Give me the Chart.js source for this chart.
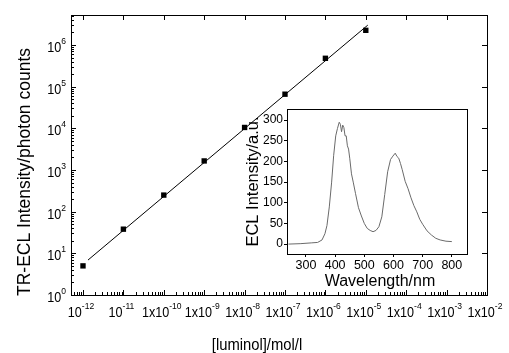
<!DOCTYPE html>
<html>
<head>
<meta charset="utf-8">
<script src="https://cdn.jsdelivr.net/npm/chart.js@4"></script>
<style>
  html, body { margin: 0; padding: 0; background: #fff; }
  #wrap { position: relative; width: 509px; height: 353px; }
  #main { position: absolute; left: 0; top: 0; }
  #inset { position: absolute; left: 240px; top: 100px; }
</style>
</head>
<body>
<div id="wrap">
  <canvas id="main" width="509" height="353"></canvas>
  <canvas id="inset" width="245" height="195"></canvas>
</div>
<script>
// main plot: TR-ECL intensity vs luminol concentration
const concentrations = [1e-12, 1e-11, 1e-10, 1e-9, 1e-8, 1e-7, 1e-6, 1e-5];
const photonCounts = [5, 38, 250, 1650, 10500, 66000, 480000, 2250000];
// fitted straight line (log-log) at its two ends
const fitConc = [1.33e-12, 1.12e-5];
const fitCounts = [6.9, 3.0e6];

const xTickValues = [1e-12, 1e-11, 1e-10, 1e-9, 1e-8, 1e-7, 1e-6, 1e-5, 1e-4, 1e-3, 1e-2];
const xTickLabels = ["10^-12", "10^-11", "1x10^-10", "1x10^-9", "1x10^-8", "1x10^-7",
                     "1x10^-6", "1x10^-5", "1x10^-4", "1x10^-3", "1x10^-2"];
const yTickValues = [1, 10, 100, 1e3, 1e4, 1e5, 1e6];
const yTickLabels = ["10^0", "10^1", "10^2", "10^3", "10^4", "10^5", "10^6"];

// inset: ECL spectrum
const wavelengths = [240, 280, 320, 340, 355, 365, 372, 380, 388, 395, 402, 408, 414, 418, 422,
  426, 430, 434, 438, 442, 446, 450, 456, 462, 470, 480, 490, 500, 510, 520, 530, 540, 550,
  560, 570, 580, 590, 598, 606, 612, 618, 624, 630, 640, 650, 660, 670, 680, 690, 700, 715,
  730, 745, 760, 780, 800];
const eclIntensity = [0, 1, 3, 4, 10, 25, 45, 90, 150, 215, 262, 280, 295, 290, 272,
  288, 282, 262, 262, 238, 230, 208, 170, 150, 122, 88, 68, 50, 38, 33, 30, 33, 42,
  66, 120, 175, 205, 213, 220, 212, 208, 195, 180, 152, 134, 112, 93, 78, 60, 48, 32,
  22, 14, 10, 7, 6];
const insetXTicks = [300, 400, 500, 600, 700, 800];
const insetYTicks = [0, 50, 100, 150, 200, 250, 300];

const FONT = '"Liberation Sans", Arial, Helvetica, sans-serif';
Chart.defaults.font.family = FONT;
Chart.defaults.color = '#000';
Chart.defaults.animation = false;

// text with a superscript part, squeezed a bit horizontally like the original
function supText(ctx, label, cx, baseY, align, sx) {
  const parts = label.split('^');
  ctx.font = '14px ' + FONT;
  const wb = ctx.measureText(parts[0]).width;
  ctx.font = '9.5px ' + FONT;
  const ws = ctx.measureText(parts[1]).width;
  const w = (wb + ws) * sx;
  const left = align === 'center' ? cx - w / 2 : cx - w;
  ctx.save();
  ctx.translate(left, baseY);
  ctx.scale(sx, 1);
  ctx.textAlign = 'left';
  ctx.textBaseline = 'alphabetic';
  ctx.font = '14px ' + FONT;
  ctx.fillText(parts[0], 0, 0);
  ctx.font = '9.5px ' + FONT;
  ctx.fillText(parts[1], wb, -8);
  ctx.restore();
}

const mainFrame = {
  id: 'mainFrame',
  afterDraw(chart) {
    const { ctx, chartArea: a } = chart;
    const x = chart.scales.x, y = chart.scales.y;
    ctx.save();
    ctx.strokeStyle = '#000';
    ctx.lineWidth = 1;
    ctx.strokeRect(a.left + 0.5, a.top + 0.5, a.right - a.left, a.bottom - a.top);
    ctx.beginPath();
    // x ticks (inward), minors only on bottom
    xTickValues.forEach(v => {
      const px = Math.round(x.getPixelForValue(v)) + 0.5;
      ctx.moveTo(px, a.bottom); ctx.lineTo(px, a.bottom - 5);
      ctx.moveTo(px, a.top); ctx.lineTo(px, a.top + 5);
    });
    [1e-13].concat(xTickValues).forEach(v => {
      for (let m = 2; m <= 9; m++) {
        const val = m * v;
        if (val < x.min || val > x.max) continue;
        const px = Math.round(x.getPixelForValue(val)) + 0.5;
        ctx.moveTo(px, a.bottom); ctx.lineTo(px, a.bottom - 3);
      }
    });
    // y ticks (inward), minors only on left
    yTickValues.forEach(v => {
      const py = Math.round(y.getPixelForValue(v)) + 0.5;
      ctx.moveTo(a.left, py); ctx.lineTo(a.left + 5, py);
      ctx.moveTo(a.right, py); ctx.lineTo(a.right - 5, py);
      for (let m = 2; m <= 9; m++) {
        const val = m * v;
        if (val > y.max) continue;
        const pm = Math.round(y.getPixelForValue(val)) + 0.5;
        ctx.moveTo(a.left, pm); ctx.lineTo(a.left + 3, pm);
      }
    });
    ctx.stroke();

    ctx.fillStyle = '#000';
    xTickValues.forEach((v, i) => {
      supText(ctx, xTickLabels[i], x.getPixelForValue(v) - 2, a.bottom + 22, 'center', 0.9);
    });
    yTickValues.forEach((v, i) => {
      supText(ctx, yTickLabels[i], a.left - 5, y.getPixelForValue(v) + 7, 'right', 0.9);
    });

    // axis titles
    ctx.save();
    ctx.translate(257, 350);
    ctx.scale(0.87, 1);
    ctx.font = '17px ' + FONT;
    ctx.textAlign = 'center';
    ctx.textBaseline = 'alphabetic';
    ctx.fillText('[luminol]/mol/l', 0, 0);
    ctx.restore();

    ctx.save();
    ctx.translate(30, 172);
    ctx.rotate(-Math.PI / 2);
    ctx.font = '17.5px ' + FONT;
    ctx.textAlign = 'center';
    ctx.textBaseline = 'alphabetic';
    ctx.fillText('TR-ECL Intensity/photon counts', 0, 0);
    ctx.restore();
    ctx.restore();
  }
};

new Chart(document.getElementById('main'), {
  type: 'scatter',
  data: {
    datasets: [
      {
        label: 'fit',
        data: fitConc.map((c, i) => ({ x: c, y: fitCounts[i] })),
        showLine: true,
        borderColor: '#000',
        borderWidth: 1,
        pointRadius: 0
      },
      {
        label: 'TR-ECL',
        data: concentrations.map((c, i) => ({ x: c, y: photonCounts[i] })),
        pointStyle: 'rect',
        pointRadius: 3.8,
        backgroundColor: '#000',
        borderColor: '#000',
        borderWidth: 0
      }
    ]
  },
  options: {
    responsive: false,
    layout: { padding: { left: 71, right: 22, top: 15, bottom: 58 } },
    plugins: { legend: { display: false }, tooltip: { enabled: false } },
    scales: {
      x: {
        type: 'logarithmic',
        min: 5.05e-13,
        max: 1e-2,
        ticks: { display: false },
        grid: { display: false, drawTicks: false },
        border: { display: false },
        afterFit: s => { s.height = 0; }
      },
      y: {
        type: 'logarithmic',
        min: 1,
        max: 5.25e6,
        ticks: { display: false },
        grid: { display: false, drawTicks: false },
        border: { display: false },
        afterFit: s => { s.width = 0; }
      }
    }
  },
  plugins: [mainFrame]
});

const insetFrame = {
  id: 'insetFrame',
  afterDraw(chart) {
    const { ctx, chartArea: a } = chart;
    ctx.save();
    ctx.strokeStyle = '#000';
    ctx.lineWidth = 1;
    ctx.strokeRect(a.left + 0.5, a.top + 0.5, a.right - a.left, a.bottom - a.top);
    ctx.fillStyle = '#000';
    ctx.textAlign = 'center';
    ctx.textBaseline = 'alphabetic';
    ctx.font = '16px ' + FONT;
    ctx.fillText('Wavelength/nm', (a.left + a.right) / 2 + 3, 186);
    ctx.translate(18, (a.top + a.bottom) / 2);
    ctx.rotate(-Math.PI / 2);
    ctx.font = '16.5px ' + FONT;
    ctx.fillText('ECL Intensity/a.u.', 0, 0);
    ctx.restore();
  }
};

new Chart(document.getElementById('inset'), {
  type: 'scatter',
  data: {
    datasets: [{
      label: 'spectrum',
      data: wavelengths.map((w, i) => ({ x: w, y: eclIntensity[i] })),
      showLine: true,
      borderColor: '#6a6a6a',
      borderWidth: 1,
      pointRadius: 0,
      tension: 0
    }]
  },
  options: {
    responsive: false,
    layout: { padding: { left: 0, right: 18, top: 9, bottom: 0 } },
    plugins: { legend: { display: false }, tooltip: { enabled: false } },
    scales: {
      x: {
        type: 'linear',
        min: 235,
        max: 852,
        afterBuildTicks: s => { s.ticks = insetXTicks.map(v => ({ value: v })); },
        ticks: { font: { size: 12.5 }, padding: 1, maxRotation: 0, autoSkip: false },
        grid: { drawOnChartArea: false, drawTicks: true, tickLength: 3, color: '#000' },
        border: { display: false },
        afterFit: s => { s.height = 41; }
      },
      y: {
        type: 'linear',
        min: -24,
        max: 327,
        afterBuildTicks: s => { s.ticks = insetYTicks.map(v => ({ value: v })); },
        ticks: { font: { size: 12 }, padding: 1, autoSkip: false },
        grid: { drawOnChartArea: false, drawTicks: true, tickLength: 3, color: '#000' },
        border: { display: false },
        afterFit: s => { s.width = 47; }
      }
    }
  },
  plugins: [insetFrame]
});
</script>
</body>
</html>
